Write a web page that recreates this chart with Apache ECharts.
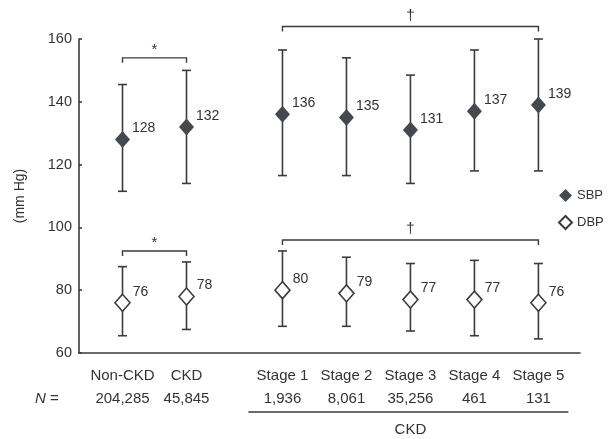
<!DOCTYPE html>
<html>
<head>
<meta charset="utf-8">
<script src="https://cdn.jsdelivr.net/npm/echarts@6/dist/echarts.min.js"></script>
<style>
html,body{margin:0;padding:0;background:#fff;}
#chart{width:615px;height:439px;}
</style>
</head>
<body>
<div id="chart"></div>
<script>
// ---- data ----
const categories = ['Non-CKD', 'CKD', 'Stage 1', 'Stage 2', 'Stage 3', 'Stage 4', 'Stage 5'];
const nCounts = ['204,285', '45,845', '1,936', '8,061', '35,256', '461', '131'];
const sbpMean = [128, 132, 136, 135, 131, 137, 139];
const sbpLow  = [111.5, 114, 116.5, 116.5, 114, 118, 118];
const sbpHigh = [145.5, 150, 156.5, 154, 148.5, 156.5, 160];
const dbpMean = [76, 78, 80, 79, 77, 77, 76];
const dbpLow  = [65.5, 67.5, 68.5, 68.5, 67, 65.5, 64.5];
const dbpHigh = [87.5, 89, 92.5, 90.5, 88.5, 89.5, 88.5];
const yTicks = [60, 80, 100, 120, 140, 160];
const groupLabel = 'CKD';
const groupRange = [2, 6];
// significance brackets: [fromIndex, toIndex, yValue, mark]
const sbpBrackets = [[0, 1, 154, '*'], [2, 6, 164, '†']];
const dbpBrackets = [[0, 1, 92.5, '*'], [2, 6, 96, '†']];

// ---- layout helpers ----
const FONT = "'Liberation Sans', Arial, Helvetica, sans-serif";
const TXT = '#333';
const INK = '#3b3b3b';
const GAP_AFTER = 1;      // extra space between CKD and Stage 1
const xPos = categories.map((c, i) => i + (i > GAP_AFTER ? 0.5 : 0));

const chart = echarts.init(document.getElementById('chart'));

function errRender(params, api) {
  const x = api.value(0), lo = api.value(1), hi = api.value(2);
  const t = api.coord([x, hi]), b = api.coord([x, lo]);
  const st = { stroke: INK, lineWidth: 1.6 };
  return {
    type: 'group',
    children: [
      { type: 'line', shape: { x1: t[0], y1: t[1], x2: b[0], y2: b[1] }, style: st },
      { type: 'line', shape: { x1: t[0] - 4.5, y1: t[1], x2: t[0] + 4.5, y2: t[1] }, style: st },
      { type: 'line', shape: { x1: b[0] - 4.5, y1: b[1], x2: b[0] + 4.5, y2: b[1] }, style: st }
    ]
  };
}

function bracketRender(params, api) {
  const x1 = api.value(0), x2 = api.value(1), y = api.value(2);
  const p1 = api.coord([x1, y]), p2 = api.coord([x2, y]);
  const mark = api.value(3) === 1 ? '†' : '*';
  const st = { stroke: INK, lineWidth: 1.4, fill: 'none' };
  return {
    type: 'group',
    children: [
      { type: 'polyline', shape: { points: [[p1[0], p1[1] + 5], [p1[0], p1[1]], [p2[0], p2[1]], [p2[0], p2[1] + 5]] }, style: st },
      { type: 'text', x: (p1[0] + p2[0]) / 2, y: p1[1] - (mark === '*' ? 8 : 11),
        style: { text: mark, fill: TXT, font: '15px ' + FONT, align: 'center', verticalAlign: 'middle' } }
    ]
  };
}

function bracketData(arr) {
  return arr.map(b => [xPos[b[0]], xPos[b[1]], b[2], b[3] === '†' ? 1 : 0]);
}

function catRender(params, api) {
  const i = params.dataIndex;
  const p = api.coord([api.value(0), yTicks[0]]);
  return {
    type: 'group',
    children: [
      { type: 'text', x: p[0], y: p[1] + 23,
        style: { text: categories[i], fill: TXT, font: '15px ' + FONT, align: 'center', verticalAlign: 'middle' } },
      { type: 'text', x: p[0], y: p[1] + 46,
        style: { text: nCounts[i], fill: TXT, font: '15px ' + FONT, align: 'center', verticalAlign: 'middle' } }
    ]
  };
}

function groupRender(params, api) {
  const a = api.coord([api.value(0), yTicks[0]]);
  const b = api.coord([api.value(1), yTicks[0]]);
  return {
    type: 'group',
    children: [
      { type: 'line', shape: { x1: a[0] - 34, y1: a[1] + 59, x2: b[0] + 30, y2: b[1] + 59 },
        style: { stroke: INK, lineWidth: 1.4 } },
      { type: 'text', x: (a[0] + b[0]) / 2, y: a[1] + 77,
        style: { text: groupLabel, fill: TXT, font: '15px ' + FONT, align: 'center', verticalAlign: 'middle' } }
    ]
  };
}

const labelCfg = {
  show: true, position: 'right', distance: 2, offset: [0, -11],
  color: TXT, fontSize: 14, fontFamily: FONT
};

chart.setOption({
  animation: false,
  backgroundColor: '#fff',
  textStyle: { fontFamily: FONT },
  grid: { left: 79, right: 35, top: 39, bottom: 86 },
  legend: {
    orient: 'vertical', left: 553, top: 184,
    icon: 'diamond', itemWidth: 13, itemHeight: 13, itemGap: 13,
    textStyle: { color: TXT, fontSize: 13, fontFamily: FONT },
    data: ['SBP', 'DBP']
  },
  xAxis: {
    type: 'value', min: -0.68, max: xPos[xPos.length - 1] + 0.65,
    axisLine: { show: true, onZero: false, lineStyle: { color: INK, width: 1.6 } },
    axisTick: { show: false }, axisLabel: { show: false }, splitLine: { show: false }
  },
  yAxis: {
    type: 'value', min: yTicks[0], max: yTicks[yTicks.length - 1], interval: yTicks[1] - yTicks[0],
    name: '(mm Hg)', nameLocation: 'middle', nameGap: 52, nameRotate: 90,
    nameTextStyle: { color: TXT, fontSize: 14, fontFamily: FONT },
    axisLine: { show: true, onZero: false, lineStyle: { color: INK, width: 1.6 } },
    axisTick: { show: true, inside: true, length: 3, lineStyle: { color: INK, width: 1.6 } },
    axisLabel: { color: TXT, fontSize: 14.5, fontFamily: FONT, margin: 7 },
    splitLine: { show: false }
  },
  graphic: [
    { type: 'text', left: 35, top: 391,
      style: { text: '{i|N} =', fill: TXT, font: '15px ' + FONT,
        rich: { i: { fontStyle: 'italic', fontSize: 15, fontFamily: FONT, fill: TXT } } } }
  ],
  series: [
    { type: 'custom', name: 'sbpErr', renderItem: errRender, clip: false, z: 1,
      data: xPos.map((x, i) => [x, sbpLow[i], sbpHigh[i]]) },
    { type: 'custom', name: 'dbpErr', renderItem: errRender, clip: false, z: 1,
      data: xPos.map((x, i) => [x, dbpLow[i], dbpHigh[i]]) },
    { type: 'scatter', name: 'SBP', symbol: 'diamond', symbolSize: [15, 17], z: 3,
      itemStyle: { color: '#45484c', opacity: 1 },
      label: labelCfg,
      data: xPos.map((x, i) => [x, sbpMean[i]]) },
    { type: 'scatter', name: 'DBP', symbol: 'diamond', symbolSize: [15, 17], z: 3,
      itemStyle: { color: '#fff', borderColor: INK, borderWidth: 1.6, opacity: 1 },
      label: labelCfg,
      data: xPos.map((x, i) => [x, dbpMean[i]]) },
    { type: 'custom', name: 'brackets', renderItem: bracketRender, clip: false, z: 2,
      data: bracketData(sbpBrackets).concat(bracketData(dbpBrackets)) },
    { type: 'custom', name: 'cats', renderItem: catRender, clip: false,
      data: xPos.map(x => [x]) },
    { type: 'custom', name: 'group', renderItem: groupRender, clip: false,
      data: [[xPos[groupRange[0]], xPos[groupRange[1]]]] }
  ]
});
</script>
</body>
</html>
